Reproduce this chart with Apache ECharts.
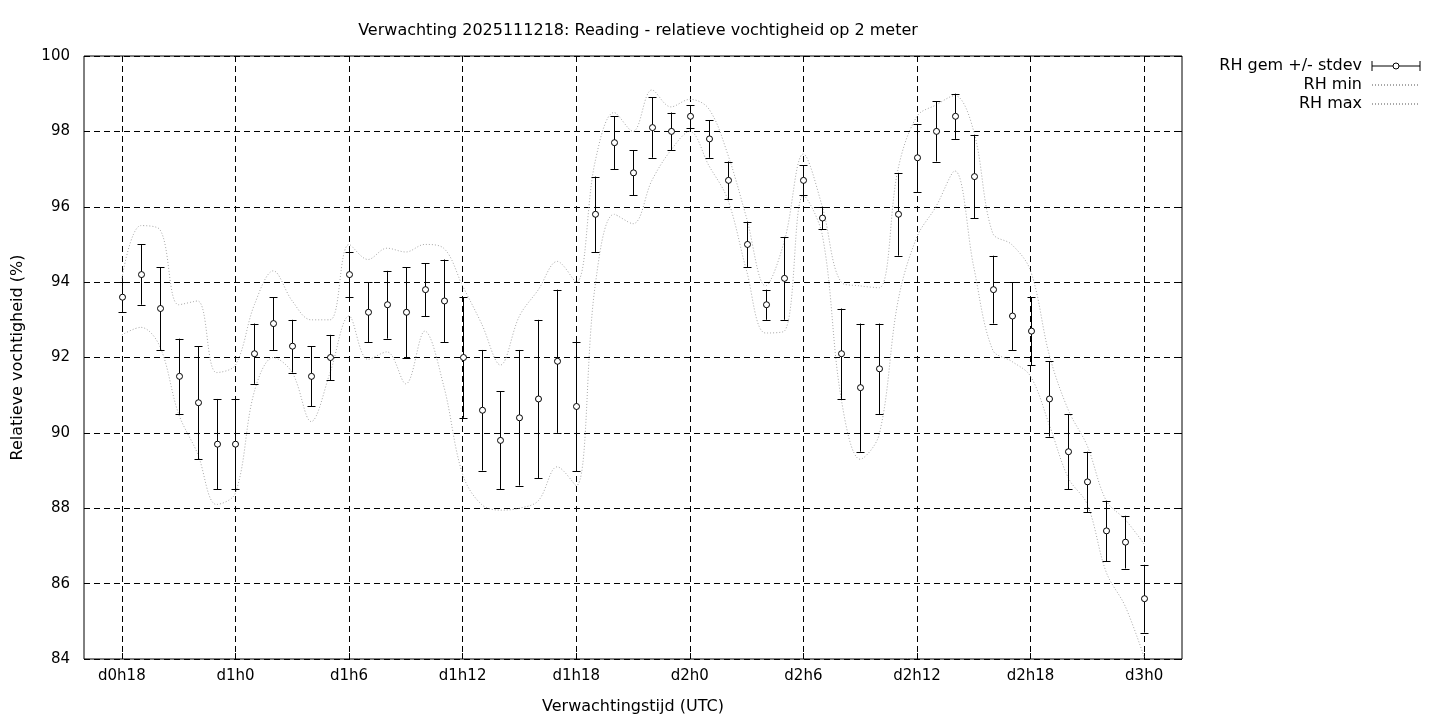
<!DOCTYPE html>
<html>
<head>
<meta charset="utf-8">
<script src="https://cdn.jsdelivr.net/npm/echarts@6/dist/echarts.min.js"></script>
<style>
  html, body { margin: 0; padding: 0; background: #fff; }
  #chart { width: 1440px; height: 720px; }
</style>
</head>
<body>
<div id="chart"></div>
<script>
// uren sinds d0h0
const hours = [18, 19, 20, 21, 22, 23,
  24, 25, 26, 27, 28, 29, 30, 31, 32, 33, 34, 35, 36, 37, 38, 39, 40, 41, 42, 43, 44, 45, 46, 47,
  48, 49, 50, 51, 52, 53, 54, 55, 56, 57, 58, 59, 60, 61, 62, 63, 64, 65, 66, 67, 68, 69, 70, 71,
  72];

// RH gemiddelde
const rhMean = [93.6, 94.2, 93.3, 91.5, 90.8, 89.7,
  89.7, 92.1, 92.9, 92.3, 91.5, 92.0, 94.2, 93.2, 93.4, 93.2, 93.8, 93.5, 92.0, 90.6, 89.8, 90.4, 90.9, 91.9, 90.7, 95.8, 97.7, 96.9, 98.1, 98.0,
  98.4, 97.8, 96.7, 95.0, 93.4, 94.1, 96.7, 95.7, 92.1, 91.2, 91.7, 95.8, 97.3, 98.0, 98.4, 96.8, 93.8, 93.1, 92.7, 90.9, 89.5, 88.7, 87.4, 87.1,
  85.6];

// RH stdev
const rhStdev = [0.4, 0.8, 1.1, 1.0, 1.5, 1.2,
  1.2, 0.8, 0.7, 0.7, 0.8, 0.6, 0.6, 0.8, 0.9, 1.2, 0.7, 1.1, 1.6, 1.6, 1.3, 1.8, 2.1, 1.9, 1.7, 1.0, 0.7, 0.6, 0.8, 0.5,
  0.3, 0.5, 0.5, 0.6, 0.4, 1.1, 0.4, 0.3, 1.2, 1.7, 1.2, 1.1, 0.9, 0.8, 0.6, 1.1, 0.9, 0.9, 0.9, 1.0, 1.0, 0.8, 0.8, 0.7,
  0.9];

// RH min
const rhMin = [92.6, 92.8, 92.3, 90.5, 89.45, 88.1,
  88.4, 91.1, 92.0, 91.6, 90.3, 91.6, 93.1, 91.95, 92.15, 91.3, 92.7, 91.25, 88.9, 88.1, 87.95, 88.0, 88.2, 89.1, 88.6, 93.9, 95.8, 95.55, 96.7, 97.5,
  98.0, 97.1, 96.2, 94.3, 92.65, 92.7, 96.3, 95.25, 90.9, 89.3, 89.95, 93.5, 95.2, 96.0, 96.95, 94.4, 92.2, 91.9, 91.5, 90.2, 88.8, 88.1, 86.3, 85.4,
  84.05];

// RH max
const rhMax = [94.1, 95.5, 95.4, 93.4, 93.5, 91.6,
  91.8, 93.4, 94.3, 93.5, 93.0, 93.0, 95.0, 94.6, 94.9, 94.8, 95.0, 94.9, 93.9, 92.9, 91.8, 93.1, 93.8, 94.55, 94.0, 97.2, 98.5, 98.0, 99.1, 98.65,
  98.85, 98.6, 97.4, 95.7, 93.9, 95.1, 97.4, 96.0, 94.0, 93.9, 93.85, 97.0, 98.4, 98.7, 98.95, 98.0, 95.3, 95.0, 94.3, 92.05, 90.6, 89.65, 88.2, 87.7,
  87.05];

// x-as labels
const tickHours = [18, 24, 30, 36, 42, 48, 54, 60, 66, 72];
const tickLabels = ["d0h18", "d1h0", "d1h6", "d1h12", "d1h18", "d2h0", "d2h6", "d2h12", "d2h18", "d3h0"];

const FONT = "DejaVu Sans";
const FS_TICK = 15;
const FS = 16;

const errData = hours.map((h, i) => [h, rhMean[i] - rhStdev[i], rhMean[i] + rhStdev[i], rhMean[i]]);
const minData = hours.map((h, i) => [h, rhMin[i]]);
const maxData = hours.map((h, i) => [h, rhMax[i]]);

const gridDash = { color: "#000", width: 1, type: [6, 4] };
const dotLine = { color: "#a8a8a8", width: 1, type: [1, 2] };

const chart = echarts.init(document.getElementById("chart"));

const option = {
  backgroundColor: "#fff",
  animation: false,
  textStyle: { fontFamily: FONT, color: "#000" },
  title: {
    text: "Verwachting 2025111218: Reading - relatieve vochtigheid op 2 meter",
    left: 633,
    top: 18,
    textAlign: "center",
    textStyle: { fontFamily: FONT, fontSize: FS, fontWeight: "normal", color: "#000" }
  },
  legend: {
    orient: "vertical",
    right: 14,
    top: 53,
    align: "right",
    itemWidth: 48,
    itemHeight: 10,
    itemGap: 3,
    textStyle: { fontFamily: FONT, fontSize: FS, color: "#000", lineHeight: 16, padding: [0, 5, 0, 0] },
    data: [
      {
        name: "RH gem +/- stdev",
        icon: "path://M0,0L0,10M0,5L21,5M27,5L48,5M48,0L48,10M21,5A3,3,0,1,1,27,5A3,3,0,1,1,21,5",
        itemStyle: { color: "transparent", borderColor: "#000", borderWidth: 1 }
      },
      { name: "RH min", itemStyle: { opacity: 0 } },
      { name: "RH max", itemStyle: { opacity: 0 } }
    ]
  },
  grid: {
    left: 84,
    top: 56,
    width: 1098,
    height: 603,
    show: true,
    borderColor: "#000",
    borderWidth: 1,
    backgroundColor: "transparent"
  },
  xAxis: [
    {
      type: "value",
      min: 16,
      max: 74,
      name: "Verwachtingstijd (UTC)",
      nameLocation: "middle",
      nameGap: 40,
      nameTextStyle: { fontFamily: FONT, fontSize: FS, color: "#000" },
      axisLine: { show: false },
      axisTick: { show: true, inside: true, length: 6, customValues: tickHours, lineStyle: { color: "#000" } },
      axisLabel: {
        customValues: tickHours,
        margin: 10,
        fontFamily: FONT,
        fontSize: FS_TICK,
        color: "#000",
        formatter: (v) => tickLabels[tickHours.indexOf(v)]
      },
      splitLine: { show: true, lineStyle: gridDash }
    },
    {
      type: "value",
      position: "top",
      min: 16,
      max: 74,
      axisLine: { show: false },
      axisTick: { show: true, inside: true, length: 6, customValues: tickHours, lineStyle: { color: "#000" } },
      axisLabel: { show: false },
      splitLine: { show: false }
    }
  ],
  yAxis: [
    {
      type: "value",
      min: 84,
      max: 100,
      interval: 2,
      name: "Relatieve vochtigheid (%)",
      nameLocation: "middle",
      nameGap: 58,
      nameTextStyle: { fontFamily: FONT, fontSize: FS, color: "#000" },
      axisLine: { show: false },
      axisTick: { show: true, inside: true, length: 6, lineStyle: { color: "#000" } },
      axisLabel: { margin: 14, fontFamily: FONT, fontSize: FS_TICK, color: "#000" },
      splitLine: { show: true, lineStyle: gridDash }
    },
    {
      type: "value",
      position: "right",
      min: 84,
      max: 100,
      interval: 2,
      axisLine: { show: false },
      axisTick: { show: true, inside: true, length: 6, lineStyle: { color: "#000" } },
      axisLabel: { show: false },
      splitLine: { show: false }
    }
  ],
  series: [
    {
      name: "RH gem +/- stdev",
      type: "custom",
      xAxisIndex: 0,
      yAxisIndex: 0,
      data: errData,
      z: 5,
      renderItem: (params, api) => {
        const x = api.value(0);
        const lo = api.coord([x, api.value(1)]);
        const hi = api.coord([x, api.value(2)]);
        const mid = api.coord([x, api.value(3)]);
        const px = Math.round(lo[0]) + 0.5;
        const cap = 4;
        const st = { stroke: "#000", lineWidth: 1, fill: null };
        return {
          type: "group",
          children: [
            { type: "line", shape: { x1: px, y1: lo[1], x2: px, y2: hi[1] }, style: st },
            { type: "line", shape: { x1: px - cap, y1: Math.round(lo[1]) + 0.5, x2: px + cap, y2: Math.round(lo[1]) + 0.5 }, style: st },
            { type: "line", shape: { x1: px - cap, y1: Math.round(hi[1]) + 0.5, x2: px + cap, y2: Math.round(hi[1]) + 0.5 }, style: st },
            { type: "circle", shape: { cx: px, cy: mid[1], r: 3 }, style: { fill: "#fff", stroke: "#000", lineWidth: 1 } }
          ]
        };
      }
    },
    {
      name: "RH min",
      type: "line",
      data: minData,
      smooth: 0.35,
      symbol: "none",
      showSymbol: false,
      lineStyle: dotLine,
      itemStyle: { color: "#a8a8a8" },
      z: 3
    },
    {
      name: "RH max",
      type: "line",
      data: maxData,
      smooth: 0.35,
      symbol: "none",
      showSymbol: false,
      lineStyle: dotLine,
      itemStyle: { color: "#a8a8a8" },
      z: 3
    }
  ]
};

chart.setOption(option);
</script>
</body>
</html>
